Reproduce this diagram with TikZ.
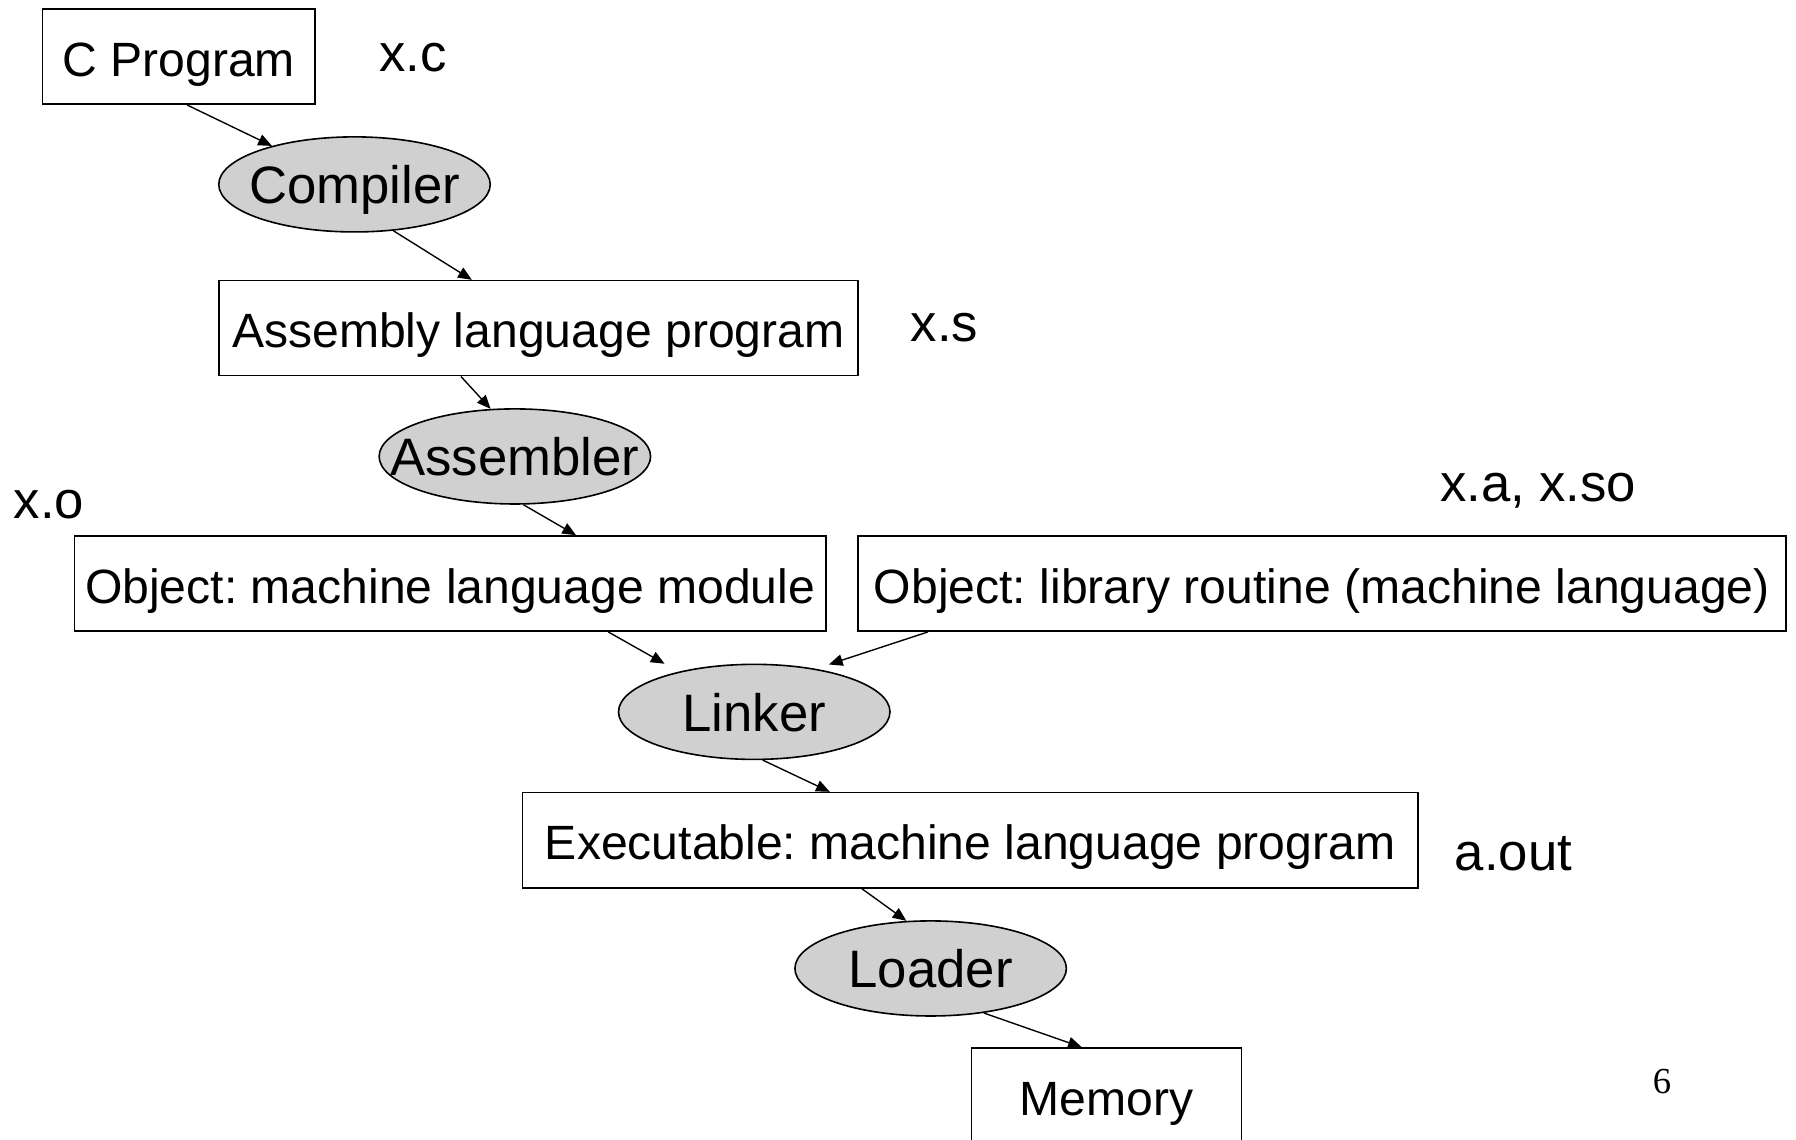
\documentclass[tikz,border=0pt]{standalone}
\usepackage{fontspec}
\setmainfont{Liberation Sans}
\newfontfamily\seriffont{Liberation Serif}
\usetikzlibrary{shapes.geometric,arrows.meta}
\definecolor{ellfill}{RGB}{208,208,208}
\frenchspacing
\tikzset{
 boxnode/.style={draw, line width=1.4pt, rectangle, minimum height=83pt, inner sep=0pt,
   font=\fontsize{42}{50}\selectfont, text height=34pt, text depth=0pt},
 ellnode/.style={draw, line width=1.4pt, ellipse, fill=ellfill, minimum width=237pt,
   minimum height=83pt, inner sep=0pt, font=\fontsize{46}{54}\selectfont,
   text height=34pt, text depth=0pt},
 lbl/.style={anchor=base west, inner sep=0pt, font=\fontsize{46}{54}\selectfont},
 conn/.style={line width=1.2pt, -{Triangle[length=12pt,width=10pt]}},
}
\begin{document}
\begin{tikzpicture}[x=1pt,y=-1pt]
\useasboundingbox (0,0) rectangle (1568,995);
% boxes
\node[boxnode, minimum width=238pt] (cprog) at (156,49.5) {C Program};
\node[boxnode, minimum width=558pt] (asm) at (470,286.5) {Assembly language program};
\node[boxnode, minimum width=656pt] (objm) at (393,509.5) {Object: machine language module};
\node[boxnode, minimum width=810pt] (lib) at (1154,509.5) {Object: library routine (machine language)};
\node[boxnode, minimum width=782pt] (exec) at (847,733.5) {Executable: machine language program};
\node[boxnode, minimum width=236pt] (mem) at (966,956.5) {Memory};
% ellipses
\node[ellnode] (comp) at (309.5,161) {\makebox[0pt]{Compiler}};
\node[ellnode] (assem) at (449.5,398.5) {\makebox[0pt]{Assembler}};
\node[ellnode] (linker) at (658.5,621.5) {\makebox[0pt]{Linker}};
\node[ellnode] (loader) at (812.5,845.5) {\makebox[0pt]{Loader}};
% labels
\node[lbl] (lxc) at (331,62.6) {x.c};
\node[lbl] (lxs) at (795,298.3) {x.s};
\node[lbl] (lxo) at (12,452.5) {x.o};
\node[lbl] (lxa) at (1257,438) {x.a, x.so};
\node[lbl] (laout) at (1270,760) {a.out};
\node[anchor=base, inner sep=0pt, font=\seriffont\fontsize{32}{38}\selectfont] (pg) at (1451,955) {6};
% connectors
\draw[conn] (cprog.-80.6) -- (comp.155.5);
\draw[conn] (comp.-50.6) -- (asm.144.4);
\draw[conn] (asm.-148.4) -- (assem.117.9);
\draw[conn] (assem.-80) -- (objm.21.8);
\draw[conn, shorten >=14pt] (objm.-17.2) -- (linker.152.1);
\draw[conn, shorten >=12pt] (lib.-173.26) -- (linker.35.4);
\draw[conn] (linker.-80) -- (exec.161.9);
\draw[conn] (exec.-156.8) -- (loader.117.9);
\draw[conn] (loader.-40.6) -- (mem.117.9);
\end{tikzpicture}
\end{document}
